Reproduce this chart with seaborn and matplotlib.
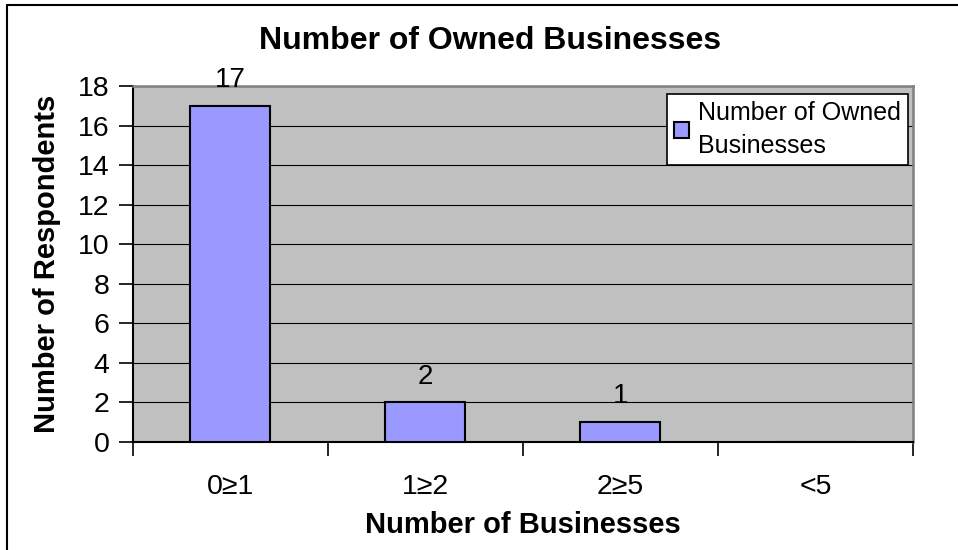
import matplotlib
matplotlib.use("Agg")
import matplotlib.pyplot as plt
from matplotlib.lines import Line2D
from matplotlib.ticker import FixedLocator
import pandas as pd
import seaborn as sns

# Survey counts per business-count bracket
categories = ["0\u22651", "1\u22652", "2\u22655", "<5"]
respondents = [17, 2, 1, 0]
series_name = "Number of Owned\nBusinesses"
y_ticks = list(range(0, 19, 2))

df = pd.DataFrame({"bracket": categories, "count": respondents})

sns.set_theme(style="white")
plt.rcParams["font.family"] = ["Liberation Sans", "DejaVu Sans"]
plt.rcParams.update({"text.color": "black", "axes.labelcolor": "black",
                     "xtick.color": "black", "ytick.color": "black"})

fig = plt.figure(figsize=(9.58, 5.5), dpi=100)
ax = fig.add_axes([0.1388, 0.1964, 0.8142, 0.6472])
ax.set_facecolor("#C0C0C0")

sns.barplot(data=df, x="bracket", y="count", order=categories,
            color="#9999FF", edgecolor="black", linewidth=1.5,
            width=0.41, saturation=1, ax=ax, label=series_name, zorder=3)

# value labels above the non-empty bars
for i, v in enumerate(respondents):
    if v > 0:
        ax.text(i, v + 0.65, str(v), ha="center", va="bottom", fontsize=20, color="black")

ax.set_ylim(0, 18)
ax.set_xlim(-0.5, len(categories) - 0.5)
ax.set_yticks(y_ticks)
ax.yaxis.grid(True, color="black", linewidth=0.8, zorder=1)
ax.set_axisbelow(True)

# category separators drawn as minor ticks on the x axis
ax.xaxis.set_minor_locator(FixedLocator([i - 0.5 for i in range(len(categories) + 1)]))
ax.tick_params(axis="x", which="major", length=0, pad=23, labelsize=20.5, labelcolor="black")
ax.tick_params(axis="x", which="minor", length=10, width=1.2, color="black", direction="out", bottom=True)
ax.tick_params(axis="y", which="major", length=10, width=1.2, color="black", direction="out",
               left=True, pad=7, labelsize=20.5, labelcolor="black")

for side in ("left", "bottom"):
    ax.spines[side].set_color("black")
    ax.spines[side].set_linewidth(1.5)
for side in ("top", "right"):
    ax.spines[side].set_color("#808080")
    ax.spines[side].set_linewidth(1.8)

ax.set_xlabel("Number of Businesses", fontsize=21, fontweight="bold", labelpad=8, color="black")
ax.set_ylabel("Number of Respondents", fontsize=21, fontweight="bold", labelpad=12, color="black")
fig.text(0.512, 0.925, "Number of Owned Businesses", ha="center", va="center",
         fontsize=23, fontweight="bold", color="black")

leg = ax.legend(loc="upper right", bbox_to_anchor=(0.994, 0.978), borderaxespad=0,
                fontsize=18, frameon=True, fancybox=False, handlelength=0.6,
                handleheight=0.6, handletextpad=0.35, borderpad=0.3)
for t in leg.get_texts():
    t.set_linespacing(1.45)
    t.set_color("black")
leg.get_frame().set_edgecolor("black")
leg.get_frame().set_linewidth(1.2)
leg.get_frame().set_facecolor("white")
leg.get_frame().set_alpha(1)

# chart-area border along the top and left edges
fig.add_artist(Line2D([7 / 958, 1], [1 - 5 / 550, 1 - 5 / 550], color="black", linewidth=1.5))
fig.add_artist(Line2D([7 / 958, 7 / 958], [0, 1 - 5 / 550], color="black", linewidth=1.5))

fig.savefig("out.png", dpi=100)
